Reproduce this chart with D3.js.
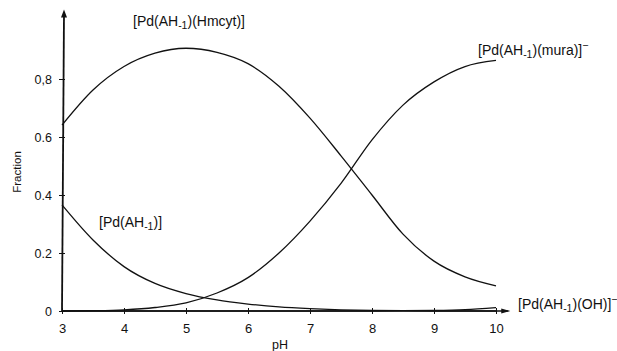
<!DOCTYPE html>
<html>
<head>
<meta charset="utf-8">
<script src="https://cdn.jsdelivr.net/npm/d3@7"></script>
<style>
  body { margin: 0; background: #fff; }
  svg { font-family: "Liberation Sans", Arial, sans-serif; }
  .tick text { fill: #111; }
</style>
</head>
<body>
<div class="canvas"></div>
<script>
// pH grid and fractions
const pH = [3, 3.5, 4, 4.5, 5, 5.5, 6, 6.5, 7, 7.5, 8, 8.5, 9, 9.5, 10];
const hmcyt = [0.641, 0.762, 0.843, 0.889, 0.906, 0.892, 0.853, 0.775, 0.665, 0.535, 0.4, 0.265, 0.172, 0.118, 0.087];
const mura  = [0.0, 0.001, 0.004, 0.012, 0.028, 0.062, 0.115, 0.2, 0.31, 0.44, 0.59, 0.71, 0.79, 0.843, 0.864];
const ah1   = [0.366, 0.245, 0.153, 0.095, 0.06, 0.038, 0.024, 0.014, 0.008, 0.004, 0.002, 0.001, 0, 0, 0];
const oh    = [0, 0, 0, 0, 0, 0, 0, 0, 0, 0, 0, 0.001, 0.002, 0.005, 0.012];
const xTicks = [3, 4, 5, 6, 7, 8, 9, 10];
const yTicks = [0, 0.2, 0.4, 0.6, 0.8];
const yTickLabels = ['0', '0.2', '0.4', '0.6', '0,8'];

const width = 617, height = 351;
const margin = { top: 21, right: 121, bottom: 40, left: 62 };

const svg = d3.select('.canvas')
  .append('svg')
  .attr('width', width)
  .attr('height', height);

const x = d3.scaleLinear().domain([3, 10]).range([margin.left, width - margin.right]);
const y = d3.scaleLinear().domain([0, 1]).range([height - margin.bottom, margin.top]);

// axes
const xAxis = svg.append('g')
  .attr('transform', `translate(0,${y(0)})`)
  .call(d3.axisBottom(x).tickValues(xTicks).tickFormat(d3.format('d')).tickSize(4).tickPadding(9));
xAxis.select('.domain').remove();
xAxis.selectAll('.tick line').attr('y1', -3).attr('y2', 3).attr('stroke', '#111');
xAxis.selectAll('.tick text').attr('font-size', 13);

const yAxis = svg.append('g')
  .attr('transform', `translate(${x(3)},0)`)
  .call(d3.axisLeft(y).tickValues(yTicks).tickFormat((d, i) => yTickLabels[i]).tickSize(4).tickPadding(6));
yAxis.select('.domain').remove();
yAxis.selectAll('.tick line').attr('x1', -3).attr('x2', 3).attr('stroke', '#111');
yAxis.selectAll('.tick text').attr('font-size', 12.5).attr('dy', '0.35em');

// axis lines with arrow heads
svg.append('line')
  .attr('x1', x(3)).attr('y1', y(0) + 1)
  .attr('x2', x(3) + 2).attr('y2', y(1.03))
  .attr('stroke', '#111').attr('stroke-width', 1.8);
svg.append('path')
  .attr('d', `M${x(3) + 2},${y(1.04)}l-3,8l6,0z`)
  .attr('fill', '#111');
svg.append('line')
  .attr('x1', x(3)).attr('y1', y(0))
  .attr('x2', x(10.2)).attr('y2', y(0))
  .attr('stroke', '#111').attr('stroke-width', 1.6);
svg.append('path')
  .attr('d', `M${x(10.23)},${y(0)}l-9,-2.5l0,5z`)
  .attr('fill', '#111');

// curves
const line = d3.line()
  .x(d => x(d[0]))
  .y(d => y(d[1]))
  .curve(d3.curveMonotoneX);

[hmcyt, mura, ah1, oh].forEach(s => {
  svg.append('path')
    .datum(pH.map((p, i) => [p, s[i]]))
    .attr('d', line)
    .attr('fill', 'none')
    .attr('stroke', '#111')
    .attr('stroke-width', 1.3);
});

// species labels
function label(px, py, parts) {
  const t = svg.append('text')
    .attr('x', px).attr('y', py)
    .attr('font-size', 14)
    .attr('fill', '#111');
  parts.forEach(p => {
    const ts = t.append('tspan').text(p[0]);
    if (p[1] === 'sub') ts.attr('baseline-shift', '-3').attr('font-size', 10.5);
    if (p[1] === 'sup') ts.attr('baseline-shift', '6').attr('font-size', 10.5);
  });
}
label(133, 26, [['[Pd(AH'], ['-1', 'sub'], [')(Hmcyt)]']]);
label(478, 55, [['[Pd(AH'], ['-1', 'sub'], [')(mura)]'], ['\u2212', 'sup']]);
label(99, 227, [['[Pd(AH'], ['-1', 'sub'], [')]']]);
label(518, 309, [['[Pd(AH'], ['-1', 'sub'], [')(OH)]'], ['\u2212', 'sup']]);

// axis titles
svg.append('text')
  .attr('transform', 'translate(21,172) rotate(-90)')
  .attr('text-anchor', 'middle')
  .attr('font-size', 11.5)
  .attr('fill', '#111')
  .text('Fraction');
svg.append('text')
  .attr('x', 280).attr('y', 349)
  .attr('text-anchor', 'middle')
  .attr('font-size', 12.5)
  .attr('fill', '#111')
  .text('pH');
</script>
</body>
</html>
